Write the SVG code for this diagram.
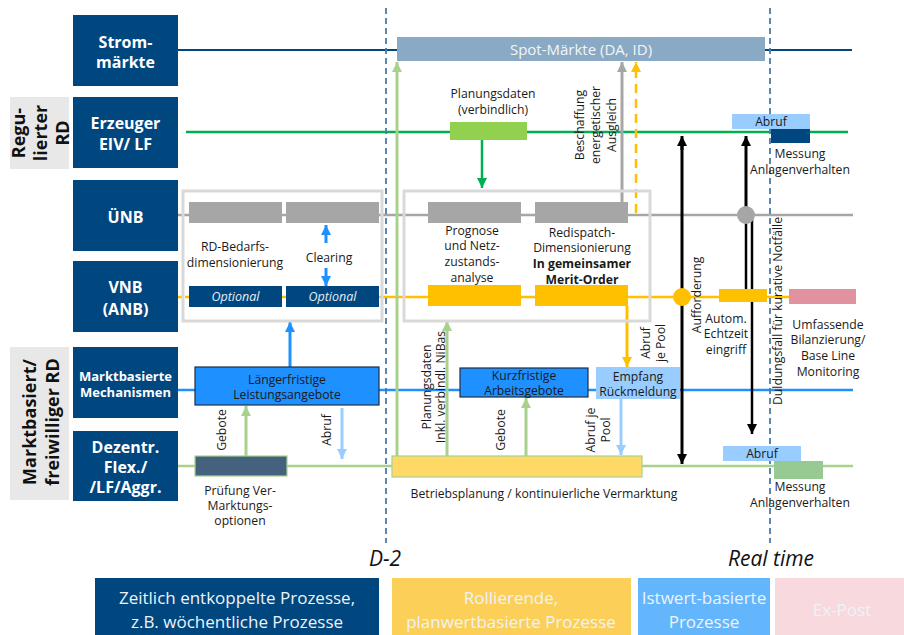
<svg xmlns="http://www.w3.org/2000/svg" width="904" height="635" viewBox="0 0 904 635">
  <defs>
    <style>
      .navy { fill: #00467f; }
      .side { fill: #e8e8e8; }
      .hd { font-family: "Open Sans", "Noto Sans", sans-serif; font-weight: 700; fill: #ffffff; text-anchor: middle; font-size: 16px; }
      .hd-s { font-size: 13px; }
      .sd { font-family: "Open Sans", "Noto Sans", sans-serif; font-weight: 700; fill: #111111; text-anchor: middle; font-size: 18px; }
      .t { font-family: "Open Sans", "Noto Sans", sans-serif; font-size: 12.2px; fill: #1a1a1a; text-anchor: middle; }
      .b { font-weight: 700; }
      .opt { font-family: "Open Sans", "Noto Sans", sans-serif; font-size: 12.5px; font-style: italic; fill: #e6eef6; text-anchor: middle; }
      .lg { font-family: "Open Sans", "Noto Sans", sans-serif; font-size: 17px; fill: #eef3f8; text-anchor: middle; }
      .tm { font-family: "Open Sans", "Noto Sans", sans-serif; font-size: 21px; font-style: italic; fill: #111111; text-anchor: middle; }
      .cont { fill: none; stroke: #d9d9d9; stroke-width: 3; }
      .gbox { fill: #a6a6a6; }
      .obox { fill: #ffc000; }
      .dash { stroke: #4a7aa8; stroke-width: 1.8; stroke-dasharray: 6 4; fill: none; }
    </style>
    <marker id="ah-green" viewBox="0 0 10 10" refX="10" refY="5" markerUnits="userSpaceOnUse" markerWidth="11" markerHeight="10" orient="auto"><path d="M0,0 L10,5 L0,10 z" fill="#00b050"/></marker>
    <marker id="ah-lgreen" viewBox="0 0 10 10" refX="10" refY="5" markerUnits="userSpaceOnUse" markerWidth="11" markerHeight="10" orient="auto"><path d="M0,0 L10,5 L0,10 z" fill="#a9d18e"/></marker>
    <marker id="ah-gray" viewBox="0 0 10 10" refX="10" refY="5" markerUnits="userSpaceOnUse" markerWidth="11" markerHeight="10" orient="auto"><path d="M0,0 L10,5 L0,10 z" fill="#a6a6a6"/></marker>
    <marker id="ah-orange" viewBox="0 0 10 10" refX="10" refY="5" markerUnits="userSpaceOnUse" markerWidth="11" markerHeight="10" orient="auto"><path d="M0,0 L10,5 L0,10 z" fill="#ffc000"/></marker>
    <marker id="ah-blue" viewBox="0 0 10 10" refX="10" refY="5" markerUnits="userSpaceOnUse" markerWidth="11" markerHeight="10" orient="auto"><path d="M0,0 L10,5 L0,10 z" fill="#1e90ff"/></marker>
    <marker id="ah-lblue" viewBox="0 0 10 10" refX="10" refY="5" markerUnits="userSpaceOnUse" markerWidth="11" markerHeight="10" orient="auto"><path d="M0,0 L10,5 L0,10 z" fill="#99cdff"/></marker>
    <marker id="ah-black" viewBox="0 0 10 10" refX="10" refY="5" markerUnits="userSpaceOnUse" markerWidth="11" markerHeight="10" orient="auto"><path d="M0,0 L10,5 L0,10 z" fill="#000000"/></marker>
  </defs>

  <rect width="904" height="635" fill="#ffffff"/>

  <!-- swim-lane lines -->
  <g id="lanes" fill="none">
    <line x1="178" y1="50" x2="852" y2="50" stroke="#00467f" stroke-width="2"/>
    <line x1="186" y1="132" x2="848" y2="132" stroke="#00b050" stroke-width="2.5"/>
    <line x1="178" y1="215" x2="853" y2="215" stroke="#a6a6a6" stroke-width="2.5"/>
    <line x1="178" y1="297" x2="190" y2="297" stroke="#ffc000" stroke-width="2.5" stroke-dasharray="4 3"/>
    <line x1="190" y1="297" x2="856" y2="297" stroke="#ffc000" stroke-width="2.5"/>
    <line x1="178" y1="390" x2="853" y2="390" stroke="#1e90ff" stroke-width="2.5"/>
    <line x1="178" y1="466" x2="853" y2="466" stroke="#a9d18e" stroke-width="2.5"/>
  </g>

  <!-- time markers -->
  <g id="timelines">
    <line class="dash" x1="386" y1="8" x2="386" y2="543"/>
    <line class="dash" x1="770" y1="8" x2="770" y2="543"/>
  </g>

  <!-- lane headers -->
  <g id="side-regulated">
    <rect class="side" x="10" y="97" width="59" height="72"/>
    <text class="sd" transform="translate(25,133) rotate(-90)"><tspan x="0" y="0">Regu-</tspan><tspan x="0" y="22">lierter</tspan><tspan x="0" y="44">RD</tspan></text>
  </g>
  <g id="side-market">
    <rect class="side" x="10" y="347" width="59" height="153"/>
    <text class="sd" transform="translate(36,422) rotate(-90)"><tspan x="0" y="0">Marktbasiert/</tspan><tspan x="0" y="23">freiwilliger RD</tspan></text>
  </g>
  <g id="lane-strommaerkte">
    <rect class="navy" x="73" y="15" width="105" height="71"/>
    <text class="hd"><tspan x="125.5" y="48">Strom-</tspan><tspan x="125.5" y="68">märkte</tspan></text>
  </g>
  <g id="lane-erzeuger">
    <rect class="navy" x="73" y="97" width="105" height="71"/>
    <text class="hd"><tspan x="125.5" y="129">Erzeuger</tspan><tspan x="125.5" y="150">EIV/ LF</tspan></text>
  </g>
  <g id="lane-uenb">
    <rect class="navy" x="73" y="180" width="105" height="71"/>
    <text class="hd" x="125.5" y="223">ÜNB</text>
  </g>
  <g id="lane-vnb">
    <rect class="navy" x="73" y="261" width="105" height="71"/>
    <text class="hd"><tspan x="125.5" y="293">VNB</tspan><tspan x="125.5" y="315">(ANB)</tspan></text>
  </g>
  <g id="lane-markt">
    <rect class="navy" x="73" y="347" width="105" height="71"/>
    <text class="hd hd-s"><tspan x="125.5" y="381">Marktbasierte</tspan><tspan x="125.5" y="397">Mechanismen</tspan></text>
  </g>
  <g id="lane-dezentral">
    <rect class="navy" x="73" y="431" width="105" height="70"/>
    <text class="hd"><tspan x="125.5" y="453">Dezentr.</tspan><tspan x="125.5" y="473">Flex./</tspan><tspan x="125.5" y="493">/LF/Aggr.</tspan></text>
  </g>

  <!-- connectors -->
  <g id="connectors" fill="none">
    <line x1="397" y1="456" x2="397" y2="62" stroke="#a9d18e" stroke-width="3" marker-end="url(#ah-lgreen)"/>
    <line x1="482" y1="140" x2="482" y2="188" stroke="#00b050" stroke-width="2.5" marker-end="url(#ah-green)"/>
    <line x1="622" y1="202" x2="622" y2="62" stroke="#a6a6a6" stroke-width="3" marker-end="url(#ah-gray)"/>
    <line x1="636" y1="213" x2="636" y2="62" stroke="#ffc000" stroke-width="2.5" stroke-dasharray="9 6" marker-end="url(#ah-orange)"/>
    <line x1="326" y1="243" x2="326" y2="225" stroke="#1e90ff" stroke-width="3" marker-end="url(#ah-blue)"/>
    <line x1="326" y1="268" x2="326" y2="286" stroke="#1e90ff" stroke-width="3" marker-end="url(#ah-blue)"/>
    <line x1="290" y1="367" x2="290" y2="322" stroke="#1e90ff" stroke-width="3" marker-end="url(#ah-blue)"/>
    <line x1="246" y1="456" x2="246" y2="406" stroke="#a9d18e" stroke-width="3" marker-end="url(#ah-lgreen)"/>
    <line x1="342" y1="408" x2="342" y2="459" stroke="#99cdff" stroke-width="3" marker-end="url(#ah-lblue)"/>
    <line x1="447" y1="456" x2="447" y2="321" stroke="#a9d18e" stroke-width="3" marker-end="url(#ah-lgreen)"/>
    <line x1="526" y1="456" x2="526" y2="398" stroke="#a9d18e" stroke-width="3" marker-end="url(#ah-lgreen)"/>
    <line x1="627" y1="306" x2="627" y2="367" stroke="#ffc000" stroke-width="3" marker-end="url(#ah-orange)"/>
    <line x1="621" y1="399" x2="621" y2="455" stroke="#99cdff" stroke-width="3" marker-end="url(#ah-lblue)"/>
    <line x1="682" y1="150" x2="682" y2="136" stroke="#000000" stroke-width="3" marker-end="url(#ah-black)"/>
    <line x1="682" y1="140" x2="682" y2="450" stroke="#000000" stroke-width="3"/>
    <line x1="682" y1="450" x2="682" y2="464" stroke="#000000" stroke-width="3" marker-end="url(#ah-black)"/>
    <line x1="746" y1="215" x2="746" y2="136" stroke="#000000" stroke-width="3" marker-end="url(#ah-black)"/>
    <line x1="746" y1="215" x2="746" y2="289" stroke="#000000" stroke-width="2.5"/>
    <line x1="752" y1="218" x2="752" y2="434" stroke="#000000" stroke-width="2.5" marker-end="url(#ah-black)"/>
  </g>

  <g id="spot-maerkte">
    <rect x="397" y="37" width="368" height="24" fill="#8aa9c4"/>
    <text class="t" x="581" y="55" style="font-size:15px;fill:#f2f5f8">Spot-Märkte (DA, ID)</text>
  </g>

  <g id="planungsdaten">
    <rect x="450" y="122" width="77" height="18" fill="#92d050"/>
    <text class="t"><tspan x="493" y="98">Planungsdaten</tspan><tspan x="493" y="114">(verbindlich)</tspan></text>
  </g>

  <g id="beschaffung-label">
    <text class="t" transform="translate(584,125) rotate(-90)"><tspan x="0" y="0">Beschaffung</tspan><tspan x="0" y="16">energetischer</tspan><tspan x="0" y="32">Ausgleich</tspan></text>
  </g>

  <g id="rd-bedarf">
    <rect class="cont" x="183" y="191" width="199" height="130"/>
    <rect class="gbox" x="189" y="202" width="93" height="21"/>
    <rect class="gbox" x="286" y="202" width="93" height="21"/>
    <rect class="navy" x="189" y="286" width="93" height="21"/>
    <rect class="navy" x="286" y="286" width="93" height="21"/>
    <text class="opt" x="235.5" y="301">Optional</text>
    <text class="opt" x="332.5" y="301">Optional</text>
    <text class="t"><tspan x="235" y="251">RD-Bedarfs-</tspan><tspan x="235" y="267">dimensionierung</tspan></text>
    <text class="t" x="329" y="262">Clearing</text>
  </g>

  <g id="redispatch">
    <rect class="cont" x="404" y="191" width="246" height="130"/>
    <rect class="gbox" x="428" y="202" width="93" height="21"/>
    <rect class="gbox" x="535" y="202" width="93" height="21"/>
    <rect class="obox" x="428" y="285" width="93" height="21"/>
    <rect class="obox" x="535" y="285" width="93" height="21"/>
    <text class="t"><tspan x="472" y="235">Prognose</tspan><tspan x="472" y="250">und Netz-</tspan><tspan x="472" y="266">zustands-</tspan><tspan x="472" y="282">analyse</tspan></text>
    <text class="t"><tspan x="582" y="237">Redispatch-</tspan><tspan x="582" y="252">Dimensionierung</tspan><tspan class="b" x="582" y="268">In gemeinsamer</tspan><tspan class="b" x="582" y="284">Merit-Order</tspan></text>
  </g>

  <g id="abruf-oben">
    <rect x="732" y="114" width="78" height="15" fill="#99cdff"/>
    <rect class="navy" x="771" y="129" width="39" height="14"/>
    <text class="t" x="771" y="126">Abruf</text>
    <text class="t"><tspan x="800" y="158">Messung</tspan><tspan x="800" y="174">Anlagenverhalten</tspan></text>
  </g>

  <g id="echtzeit">
    <circle cx="746" cy="215" r="9" fill="#a6a6a6"/>
    <circle cx="682" cy="297" r="9" fill="#ffc000"/>
    <rect class="obox" x="719" y="289" width="48" height="13"/>
    <text class="t"><tspan x="726" y="323">Autom.</tspan><tspan x="726" y="338">Echtzeit</tspan><tspan x="726" y="354">eingriff</tspan></text>
    <text class="t" transform="translate(701,295) rotate(-90)">Aufforderung</text>
    <text class="t" transform="translate(782,311) rotate(-90)">Duldungsfall für kurative Notfälle</text>
  </g>

  <g id="ex-post">
    <rect x="789" y="289" width="67" height="15" fill="#e0939e"/>
    <text class="t"><tspan x="828" y="329">Umfassende</tspan><tspan x="828" y="344">Bilanzierung/</tspan><tspan x="828" y="360">Base Line</tspan><tspan x="828" y="376">Monitoring</tspan></text>
  </g>

  <g id="langfristig">
    <rect x="195" y="367" width="184" height="38" fill="#1e90ff" stroke="#1f2f45" stroke-width="1.2"/>
    <text class="t"><tspan x="287" y="384">Längerfristige</tspan><tspan x="287" y="399">Leistungsangebote</tspan></text>
    <text class="t" transform="translate(226,430) rotate(-90)">Gebote</text>
    <text class="t" transform="translate(331,430) rotate(-90)">Abruf</text>
  </g>

  <g id="pruefung">
    <rect x="195" y="456" width="92" height="20" fill="#44617d" stroke="#a9d18e" stroke-width="1.2"/>
    <text class="t"><tspan x="240" y="495">Prüfung Ver-</tspan><tspan x="240" y="510">Marktungs-</tspan><tspan x="240" y="525">optionen</tspan></text>
  </g>

  <g id="planungsdaten-nibas">
    <text class="t" transform="translate(431,387) rotate(-90)"><tspan x="0" y="0">Planungsdaten</tspan><tspan x="0" y="14">Inkl. verbindl. NiBas</tspan></text>
  </g>

  <g id="kurzfristig">
    <rect x="460" y="368" width="128" height="29" fill="#1e90ff" stroke="#1f2f45" stroke-width="1.2"/>
    <text class="t"><tspan x="524" y="380">Kurzfristige</tspan><tspan x="524" y="395">Arbeitsgebote</tspan></text>
    <text class="t" transform="translate(505,430) rotate(-90)">Gebote</text>
  </g>

  <g id="empfang">
    <rect x="596" y="367" width="84" height="32" fill="#99cdff"/>
    <text class="t"><tspan x="638" y="381">Empfang</tspan><tspan x="638" y="396">Rückmeldung</tspan></text>
    <text class="t" transform="translate(650,343) rotate(-90)"><tspan x="0" y="0">Abruf</tspan><tspan x="0" y="15">je Pool</tspan></text>
    <text class="t" transform="translate(595,430) rotate(-90)"><tspan x="0" y="0">Abruf je</tspan><tspan x="0" y="15">Pool</tspan></text>
  </g>

  <g id="betriebsplanung">
    <rect x="392" y="456" width="250" height="21" fill="#ffd966" stroke="#a9d18e" stroke-width="1.2"/>
    <text class="t" x="544" y="498">Betriebsplanung / kontinuierliche Vermarktung</text>
  </g>

  <g id="abruf-unten">
    <rect x="723" y="446" width="78" height="15" fill="#99cdff"/>
    <rect x="774" y="461" width="49" height="18" fill="#97c993"/>
    <text class="t" x="762" y="458">Abruf</text>
    <text class="t"><tspan x="800" y="491">Messung</tspan><tspan x="800" y="507">Anlagenverhalten</tspan></text>
  </g>

  <!-- phase legend -->
  <g id="legend">
    <text class="tm" x="385" y="566">D-2</text>
    <text class="tm" x="771" y="566">Real time</text>
    <rect x="95" y="578" width="284" height="57" fill="#00467f"/>
    <text class="lg"><tspan x="237" y="604">Zeitlich entkoppelte Prozesse,</tspan><tspan x="237" y="628">z.B. wöchentliche Prozesse</tspan></text>
    <rect x="392" y="578" width="239" height="57" fill="#fcd058"/>
    <text class="lg"><tspan x="511" y="604">Rollierende,</tspan><tspan x="511" y="628">planwertbasierte Prozesse</tspan></text>
    <rect x="638" y="578" width="132" height="57" fill="#63b6fb"/>
    <text class="lg"><tspan x="704" y="604">Istwert-basierte</tspan><tspan x="704" y="628">Prozesse</tspan></text>
    <rect x="775" y="578" width="129" height="57" fill="#f7d9de"/>
    <text class="lg" x="842" y="616">Ex-Post</text>
  </g>
</svg>
